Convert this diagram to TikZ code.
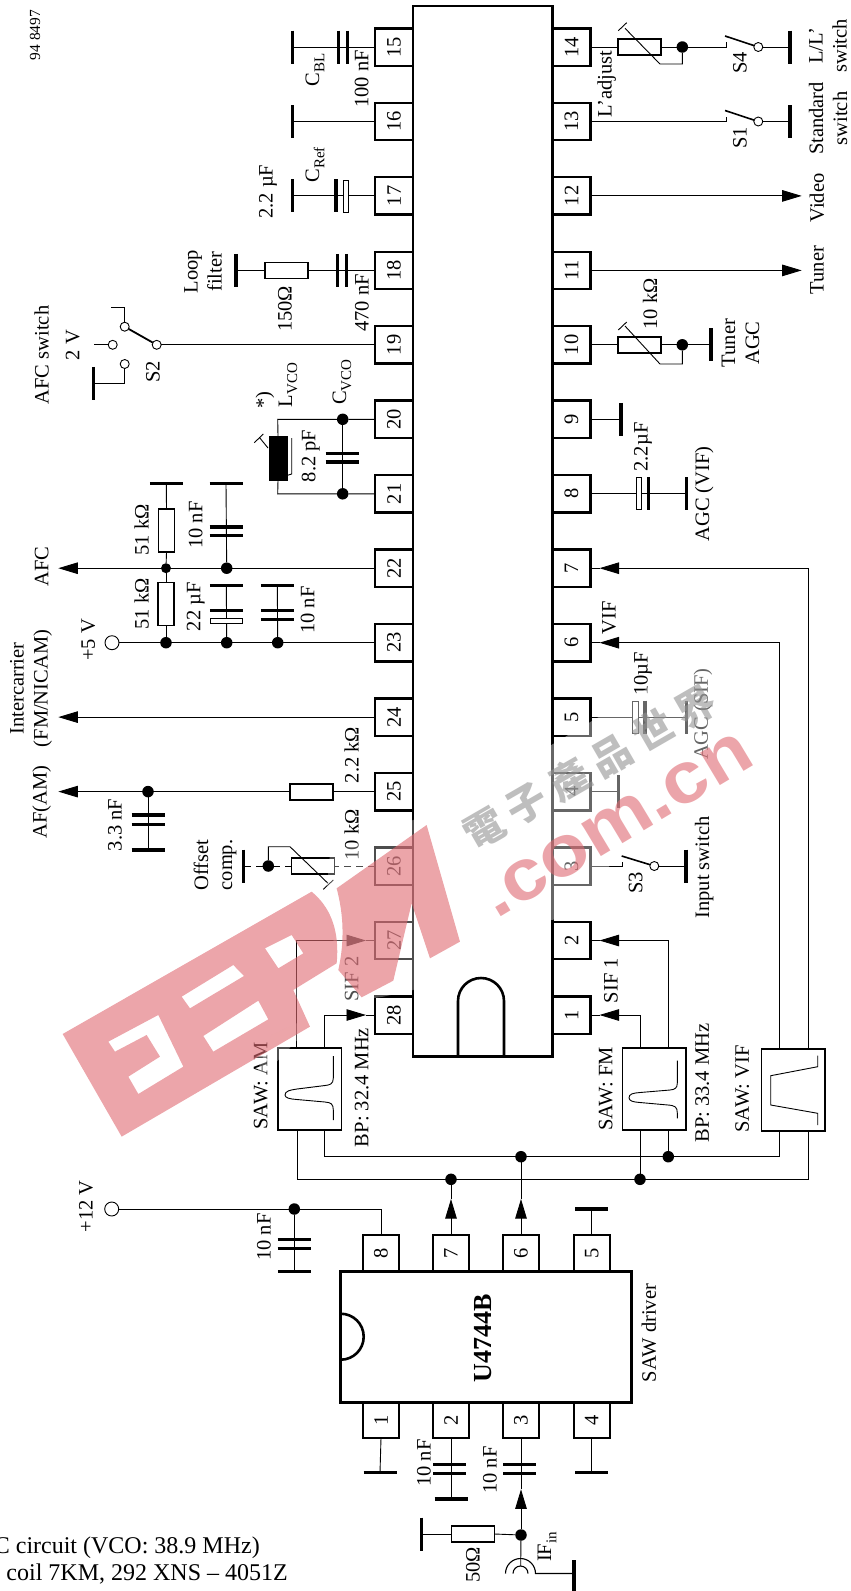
\documentclass[tikz,border=0pt]{standalone}
\usepackage{fontspec}
\setmainfont{Liberation Serif}
\newfontfamily\wmsans{Liberation Sans}
\newfontfamily\wmcjk[LetterSpace=22]{Noto Sans CJK TC}
\usetikzlibrary{arrows.meta,calc}
\definecolor{wmp}{RGB}{223,105,113}
\definecolor{wmg}{RGB}{147,147,147}
\newcommand{\lf}{\fontsize{20.5}{24}\selectfont}
\newcommand{\sbs}[1]{\raisebox{-.25em}{\fontsize{15}{15}\selectfont #1}}
\tikzset{
  >={Triangle[length=19.5pt,width=11.5pt]},
  wire/.style={line width=.9pt},
  bar/.style={line width=3.4pt},
  lab/.style={rotate=90,inner sep=0pt,font=\lf,align=center},
  pinbox/.style={draw,line width=2.4pt,minimum width=38pt,minimum height=37.4pt,inner sep=0pt,outer sep=0pt,font=\lf},
  upin/.style={draw,line width=2pt,minimum width=36pt,minimum height=36pt,inner sep=0pt,outer sep=0pt,font=\lf},
  chip/.style={draw,line width=2.6pt,inner sep=0pt,outer sep=0pt},
  res/.style={draw,fill=white,line width=1.8pt,inner sep=0pt,outer sep=0pt},
  hres/.style={res,minimum width=43pt,minimum height=16pt},
  vres/.style={res,minimum width=16pt,minimum height=43pt},
  sawbox/.style={draw,line width=1.6pt,inner sep=0pt,outer sep=0pt,minimum width=63.5pt,minimum height=82pt},
  dot/.style={circle,fill=black,inner sep=0pt,outer sep=0pt,minimum size=11.5pt},
  sdot/.style={dot,minimum size=10pt},
  term/.style={circle,draw,fill=white,line width=.9pt,inner sep=0pt,outer sep=0pt,minimum size=14pt},
  swc/.style={circle,draw,fill=white,line width=.9pt,inner sep=0pt,outer sep=0pt,minimum size=9pt},
  hollow/.style={draw,fill=white,line width=.8pt},
  wmark/.style={opacity=.6}
}
\newcommand{\VP}[2]{\draw[bar] (#1,#2-16.5) -- (#1,#2+16.5);}
\newcommand{\HP}[2]{\draw[bar] (#1-16.5,#2) -- (#1+16.5,#2);}
\newcommand{\VB}[3]{\coordinate (#1) at (#2,#3);\VP{#2}{#3}}
\newcommand{\HB}[3]{\coordinate (#1) at (#2,#3);\HP{#2}{#3}}
\begin{document}
\begin{tikzpicture}[x=1pt,y=-1pt]
\useasboundingbox (0,0) rectangle (851,1591);
% ---------- pins
\foreach \n/\yy in {15/47,16/121.5,17/195.9,18/270.4,19/344.8,20/419.3,21/493.8,22/568.2,23/642.7,24/717.1,25/791.6,26/866,27/940.5,28/1015}
  \node[pinbox] (p\n) at (394,\yy) {\rotatebox{90}{\n}};
\foreach \n/\yy in {14/47,13/121.5,12/195.9,11/270.4,10/344.8,9/419.3,8/493.8,7/568.2,6/642.7,5/717.1,4/791.6,3/866,2/940.5,1/1015}
  \node[pinbox] (p\n) at (571.5,\yy) {\rotatebox{90}{\n}};
\node[chip,minimum width=139.7pt,minimum height=1050.7pt] (ic) at (482.85,531.35) {};
\draw[line width=2.6pt] (458,1056.7) -- (458,1001) arc[start angle=180,end angle=0,radius=23pt] -- (504,1056.7);
% ---------- U4744B
\foreach \n/\xx in {8/381,7/451,6/521,5/591.7}
  \node[upin] (u\n) at (\xx,1253) {\rotatebox{90}{\n}};
\foreach \n/\xx in {1/381,2/451,3/521,4/591.7}
  \node[upin] (u\n) at (\xx,1420) {\rotatebox{90}{\n}};
\node[chip,minimum width=291pt,minimum height=131pt,fill=white] (drv) at (486.2,1336.8) {};
\draw[line width=2.6pt] (340.7,1313.7) arc[start angle=90,end angle=-90,radius=23pt];
\node[lab,font=\fontsize{26}{30}\selectfont\bfseries] (tU) at (483,1338) {U4744B};
\node[lab] (tDrv) at (649,1333) {SAW driver};
% ---------- SAW filters
\node[sawbox] (sAM) at (309.7,1089.2) {};
\node[sawbox] (sFM) at (654.4,1089.2) {};
\node[sawbox] (sVF) at (793.4,1090) {};
\draw[wire] (333.3,1056) -- (333.3,1078) .. controls (333.3,1084) and (330,1085) .. (325,1085.5) -- (297,1089) .. controls (290,1090) and (285,1091) .. (285,1095) .. controls (285,1098) and (290,1099) .. (297,1099.5) -- (325,1102) .. controls (331,1102.5) and (333.3,1104) .. (333.3,1110) -- (333.3,1120);
\draw[wire] (677.3,1060.7) -- (677.3,1083) .. controls (677.3,1088) and (675,1089.5) .. (670,1090) -- (640,1092.5) .. controls (633,1093) and (629,1094) .. (629,1097.7) .. controls (629,1101) and (633,1102) .. (640,1102.5) -- (668,1105) .. controls (675,1105.5) and (677.3,1107) .. (677.3,1113) -- (677.3,1118.3);
\draw[wire] (817.7,1055.7) -- (817.7,1066.7) -- (770.7,1075.7) -- (770.7,1105) -- (817.7,1113.3) -- (817.7,1125);
% ---------- SAW wiring
\coordinate (am1) at (296,1048.2);
\coordinate (am2) at (324.3,1048.2);
\coordinate (am3) at (324.3,1130.2);
\coordinate (am4) at (297.7,1130.2);
\coordinate (busA) at (324.3,1156.7);
\coordinate (busB) at (297.7,1179.3);
\coordinate (fm1) at (640,1048.2);
\coordinate (fm2) at (668.3,1048.2);
\coordinate (fm3) at (640,1130.2);
\coordinate (fm4) at (668.3,1130.2);
\coordinate (vf1) at (779,1049);
\coordinate (vf2) at (808.3,1049);
\coordinate (vf3) at (779,1131);
\coordinate (vf4) at (808.3,1131);
\coordinate (a27) at (366,940.5);
\coordinate (a28) at (366,1015);
\coordinate (a1) at (599.5,1015);
\coordinate (a2) at (599.5,940.5);
\coordinate (a6) at (599.5,642.7);
\coordinate (a7) at (599.5,568.2);
\node[dot] (d668) at (668.3,1156.7) {};
\node[dot] (d640) at (640,1179.3) {};
\node[dot] (d521) at (521,1156.7) {};
\node[dot] (d451) at (451,1179.3) {};
\draw[wire,->] (am1) |- (a27);
\draw[wire] (a27) -- (p27.west);
\draw[wire,->] (am2) |- (a28);
\draw[wire] (a28) -- (p28.west);
\draw[wire,->] (fm1) |- (a1);
\draw[wire] (a1) -- (p1.east);
\draw[wire,->] (fm2) |- (a2);
\draw[wire] (a2) -- (p2.east);
\draw[wire,->] (vf1) |- (a6);
\draw[wire] (a6) -- (p6.east);
\draw[wire,->] (vf2) |- (a7);
\draw[wire] (a7) -- (p7.east);
\draw[wire] (am3) -- (busA) -| (vf3);
\draw[wire] (am4) -- (busB) -| (vf4);
\draw[wire] (fm3) -- (d640);
\draw[wire] (fm4) -- (d668);
\coordinate (aU7) at (451,1199);
\coordinate (aU6) at (521,1199);
\draw[wire,->] (u7.north) -- (aU7);
\draw[wire,->] (u6.north) -- (aU6);
\draw[wire] (aU7) -- (d451);
\draw[wire] (aU6) -- (d521);
% ---------- U4744B periphery
\node[term] (t12) at (111.7,1209) {};
\node[dot] (d294) at (294.3,1209) {};
\coordinate (c8) at (381,1209);
\draw[wire] (t12) -- (d294) -- (c8) -- (u8.north);
\HB{g12}{294.3}{1271.7}
\draw[wire] (d294) -- (g12);
\HP{294}{1239.3}\HP{294}{1248.3}
\HB{gu5}{591.7}{1209}
\draw[wire] (u5.north) -- (gu5);
\HB{gu1}{380}{1472.7}
\draw[wire] (u1.south) -- (gu1);
\HB{gu4}{591.7}{1472.7}
\draw[wire] (u4.south) -- (gu4);
\HB{gu2}{451}{1499}
\draw[wire] (u2.south) -- (gu2);
\HP{449.5}{1464.3}\HP{449.5}{1473.3}
\node[dot] (d3) at (521,1535) {};
\coordinate (a3) at (521,1489.3);
\draw[wire,->] (d3) -- (a3);
\draw[wire] (a3) -- (u3.south);
\HP{519.5}{1464.3}\HP{519.5}{1473.3}
\node[hres] (r50) at (473,1534) {};
\VB{g50}{421.7}{1534}
\draw[wire] (d3) -- (r50.east);
\draw[wire] (r50.west) -- (g50);
\coordinate (cx) at (520.7,1566);
\draw[wire] (d3) -- (cx);
\draw[line width=1.1pt] (505.5,1573.5) arc[start angle=180,end angle=0,radius=15pt] -- (574,1573.5);
\draw[line width=1.1pt] (513,1573.5) arc[start angle=180,end angle=0,radius=7.5pt];
\draw[bar] (574,1560) -- (574,1591);
% ---------- top side, left pins
\VB{g15}{292.7}{47}
\draw[wire] (p15.west) -- (g15);
\VP{338.3}{47}\VP{347.3}{47}
\VB{g16}{292.7}{121.5}
\draw[wire] (p16.west) -- (g16);
\VB{g17}{292.7}{195.9}
\draw[wire] (p17.west) -- (g17);
\VP{336}{195.9}
\draw[hollow] (343.3,179.9) rectangle (348.3,211.9);
\node[hres] (r18) at (286.6,270.4) {};
\VB{g18}{236}{270.4}
\draw[wire] (p18.west) -- (r18.east);
\draw[wire] (r18.west) -- (g18);
\VP{337.7}{270.4}\VP{346.7}{270.4}
% S2
\node[swc] (s2c) at (156.7,344.8) {};
\node[swc] (s2a) at (124.7,326.7) {};
\node[swc] (s2b) at (112.7,344.8) {};
\node[swc] (s2g) at (124.7,364) {};
\coordinate (s2e) at (94,344.8);
\coordinate (s2u) at (124.7,307.7);
\coordinate (s2v) at (111,307.7);
\coordinate (s2l) at (124.7,383.3);
\draw[wire] (p19.west) -- (s2c);
\draw[line width=1.8pt] (s2c) -- (s2a);
\draw[wire] (s2a) -- (s2u) -- (s2v);
\draw[wire] (s2b) -- (s2e);
\VB{g19}{93.3}{383.3}
\draw[wire] (s2g) -- (s2l) -- (g19);
% LC
\node[dot] (d20) at (342.7,419.3) {};
\node[dot] (d21) at (342.7,493.8) {};
\node[draw,fill=black,inner sep=0pt,minimum width=17.4pt,minimum height=44pt] (lvco) at (278,458) {};
\coordinate (l20) at (277.7,419.3);
\coordinate (l21) at (277.7,493.8);
\draw[wire] (p20.west) -- (d20) -- (l20) -- (lvco.north);
\draw[wire] (p21.west) -- (d21) -- (l21) -- (lvco.south);
\draw[wire] (d20) -- (d21);
\HP{342}{453.3}\HP{342}{462}
\draw[wire] (291.7,438) -- (291.7,474) -- (286.7,475.5);
\draw[wire] (268,448) -- (259.3,437.3);
\draw[wire] (254.3,442.7) -- (263.3,434);
% 22/23
\node[sdot] (d166) at (166,568.2) {};
\node[dot] (d227) at (226.7,568.2) {};
\node[term] (t5) at (112,642.7) {};
\node[dot] (e166) at (166,642.7) {};
\node[dot] (e227) at (226.7,642.7) {};
\node[dot] (e278) at (277.7,642.7) {};
\coordinate (a22) at (58.3,568.2);
\draw[wire,->] (p22.west) -- (a22);
\draw[wire] (p23.west) -- (t5);
\node[vres] (r51a) at (166.5,530.8) {};
\node[vres] (r51b) at (166,604) {};
\HB{g22a}{166.3}{483.3}
\HB{g22b}{226}{483.3}
\draw[wire] (d166) -- (r51a.south);
\draw[wire] (r51a.north) -- (g22a);
\draw[wire] (d227) -- (g22b);
\HP{226}{527}\HP{226}{535.7}
\draw[wire] (d166) -- (r51b.north);
\draw[wire] (r51b.south) -- (e166);
\HB{g23a}{226.3}{585.3}
\draw[wire] (e227) -- (g23a);
\HP{226.3}{610.7}
\draw[hollow] (210,618.3) rectangle (242.5,623.3);
\HB{g23b}{277.3}{585.3}
\draw[wire] (e278) -- (g23b);
\HP{277.3}{610.7}\HP{277.3}{619.3}
% 24, 25, 26
\coordinate (a24) at (58.3,717.1);
\draw[wire,->] (p24.west) -- (a24);
\node[hres] (r25) at (311.7,791.6) {};
\node[dot] (d148) at (148,791.6) {};
\coordinate (a25) at (58.3,791.6);
\draw[wire] (p25.west) -- (r25.east);
\draw[wire,->] (r25.west) -- (a25);
\HB{g25}{148}{850}
\draw[wire] (d148) -- (g25);
\HP{148}{815}\HP{148}{824.3}
\node[hres] (r26) at (313,866) {};
\node[dot] (d26) at (268.3,866) {};
\VB{g26}{243.7}{866}
\draw[wire,dash pattern=on 7pt off 5pt] (p26.west) -- (r26.east);
\draw[wire,dash pattern=on 7pt off 5pt] (r26.west) -- (d26);
\draw[wire,dash pattern=on 7pt off 5pt] (d26) -- (g26);
\coordinate (k26) at (268.3,846.7);
\coordinate (s26) at (290,846.7);
\draw[wire] (d26) -- (k26) -- (s26) -- (328,883.3);
\draw[wire] (323.3,889.3) -- (333.3,880);
% ---------- right side
\node[hres] (r14) at (639.2,47) {};
\node[dot] (d14) at (682.3,47) {};
\node[swc] (s4) at (758.3,47) {};
\VB{g14}{790}{47}
\coordinate (k14) at (726.7,47);
\draw[wire] (p14.east) -- (r14.west);
\draw[wire] (r14.east) -- (d14) -- (k14) -- (726.7,42);
\draw[wire] (s4) -- (g14);
\draw[line width=1.6pt] (725,36) -- (s4);
\coordinate (k14b) at (682.3,64);
\draw[wire] (625,28.3) -- (660,64) -- (k14b) -- (d14);
\draw[wire] (618.3,30.7) -- (626.7,22.7);
\node[swc] (s1) at (758.3,121.5) {};
\VB{g13}{790}{121.5}
\coordinate (k13) at (726.7,121.5);
\draw[wire] (p13.east) -- (k13) -- (726.7,116.5);
\draw[wire] (s1) -- (g13);
\draw[line width=1.6pt] (725,110.5) -- (s1);
\coordinate (a12) at (801.7,195.9);
\coordinate (a11) at (801.7,270.4);
\draw[wire,->] (p12.east) -- (a12);
\draw[wire,->] (p11.east) -- (a11);
\node[hres] (r10) at (639.2,344.8) {};
\node[dot] (d10) at (682.3,344.8) {};
\VB{g10}{711}{344.8}
\draw[wire] (p10.east) -- (r10.west);
\draw[wire] (r10.east) -- (d10) -- (g10);
\coordinate (k10) at (682.3,364);
\draw[wire] (625,326) -- (660,364) -- (k10) -- (d10);
\draw[wire] (618.3,330) -- (626.7,322);
\VB{g9}{621}{419.3}
\draw[wire] (p9.east) -- (g9);
\VB{g8}{686.7}{493.8}
\draw[wire] (p8.east) -- (g8);
\draw[hollow] (636.7,477.8) rectangle (641.7,509.8);
\VP{648.3}{493.8}
\VB{g5}{686.7}{717.1}
\draw[wire] (p5.east) -- (g5);
\draw[hollow] (632,701.1) rectangle (638.3,733.1);
\VP{645}{717.1}
\VB{g4}{618.3}{791.6}
\draw[wire] (p4.east) -- (g4);
\node[swc] (s3) at (654.3,866) {};
\VB{g3}{686}{866}
\coordinate (k3) at (622.3,866);
\draw[wire] (p3.east) -- (k3) -- (622.3,862);
\draw[wire] (s3) -- (g3);
\draw[line width=1.6pt] (621.7,856) -- (s3);
% ---------- labels
\node[lab,font=\fontsize{15.4}{18}\selectfont] (t948) at (35,35) {94 8497};
\node[lab] (tCBL) at (315,70) {C\sbs{BL}};
\node[lab] (t100) at (361.7,79) {100 nF};
\node[lab] (tCRef) at (315,165) {C\sbs{Ref}};
\node[lab] (t22a) at (268,191.7) {2.2 µF};
\node[lab] (tLoop) at (203,271.7) {Loop\\filter};
\node[lab] (t150) at (285,309) {150Ω};
\node[lab] (t470) at (362,303) {470 nF};
\node[lab] (tS2) at (153,372) {S2};
\node[lab] (t2V) at (72.7,345) {2 V};
\node[lab] (tAFCs) at (41.7,355) {AFC switch};
\node[lab] (tstar) at (265,400) {*)};
\node[lab] (tLV) at (288,385) {L\sbs{VCO}};
\node[lab] (tCV) at (342,382) {C\sbs{VCO}};
\node[lab] (t82) at (310.7,456) {8.2 pF};
\node[lab] (t51a) at (141.7,530) {51 kΩ};
\node[lab] (t51b) at (141.7,604) {51 kΩ};
\node[lab] (t10a) at (195.7,525) {10 nF};
\node[lab] (t22b) at (195.7,606.7) {22 µF};
\node[lab] (t10b) at (307.7,610) {10 nF};
\node[lab] (t5V) at (88.3,640) {+5 V};
\node[lab] (tAFC) at (41.7,566.7) {AFC};
\node[lab] (tInter) at (31,688.5) {Intercarrier\\(FM/NICAM)};
\node[lab] (t33) at (115,825) {3.3 nF};
\node[lab] (t22k) at (351.7,755) {2.2 kΩ};
\node[lab] (tAF) at (41.7,802) {AF(AM)};
\node[lab] (t10k) at (351.7,835) {10 kΩ};
\node[lab] (tOff) at (215,865) {Offset\\comp.};
\node[lab] (tSIF2) at (351.7,979) {SIF 2};
\node[lab] (tSAWA) at (260.7,1086) {SAW: AM};
\node[lab] (tBPA) at (361.7,1087.5) {BP: 32.4 MHz};
\node[lab] (t12V) at (86,1206.5) {+12 V};
\node[lab] (t10c) at (264,1237) {10 nF};
\node[lab] (t10d) at (424,1463) {10 nF};
\node[lab] (t10e) at (490,1470) {10 nF};
\node[lab] (t50) at (473,1565) {50Ω};
\node[lab] (tIF) at (547,1547) {IF\sbs{in}};
\node[lab] (tS4) at (740,63) {S4};
\node[lab] (tLadj) at (606.7,84) {L’adjust};
\node[lab] (tLL) at (828,46) {L/L’\\switch};
\node[lab] (tS1) at (740,138) {S1};
\node[lab] (tStd) at (828,118.5) {Standard\\switch};
\node[lab] (tVid) at (817,198) {Video};
\node[lab] (tTun) at (817,270) {Tuner};
\node[lab] (t10f) at (650,304) {10 kΩ};
\node[lab] (tTAGC) at (740.5,343) {Tuner\\AGC};
\node[lab] (t22c) at (643,447) {2.2µF};
\node[lab] (tAGV) at (704.3,494) {AGC (VIF)};
\node[lab] (tVIF) at (609,617.5) {VIF};
\node[lab] (t10u) at (643,674) {10µF};
\node[lab] (tAGS) at (703,714) {AGC (SIF)};
\node[lab] (tS3) at (635.7,883) {S3};
\node[lab] (tInp) at (704.3,867.5) {Input switch};
\node[lab] (tSIF1) at (611,980.5) {SIF 1};
\node[lab] (tSAWF) at (605.7,1089) {SAW: FM};
\node[lab] (tBPF) at (702.3,1083) {BP: 33.4 MHz};
\node[lab] (tSAWV) at (742.3,1089) {SAW: VIF};
\node[inner sep=0pt,anchor=base east,font=\fontsize{24}{28}\selectfont] (tNote1) at (260,1553) {C circuit (VCO: 38.9 MHz)};
\node[inner sep=0pt,anchor=base east,font=\fontsize{24}{28}\selectfont] (tNote2) at (288,1580) {coil 7KM, 292 XNS – 4051Z};
% ---------- fading around the marks
\begin{scope}[shift={(430,660)},x=.3333pt,y=-.3333pt]
\fill[white,opacity=.4] (0,470) -- (830,-20) -- (900,100) -- (860,330) -- (560,560) -- (480,770) -- (360,780) -- (0,560) -- cycle;
\end{scope}
\begin{scope}[shift={(50,790)},x=.3333pt,y=-.3333pt]
\fill[white,opacity=.3] (600,900) -- (665,735) -- (870,640) -- (1000,620) -- (1090,600) -- (1290,450) -- (1140,70) -- (840,190) -- (830,300) -- (860,520) -- (730,600) -- (780,710) -- cycle;
\end{scope}
% ---------- watermark
\begin{scope}[shift={(50,790)},x=.3333pt,y=-.3333pt]
\fill[wmp,wmark,even odd rule]
  (38,732) -- (785,305) .. controls (840,350) and (870,420) .. (860,520) -- (730,600) -- (780,710) -- (215,1040) -- cycle
  (175,755) -- (325,675) -- (400,830) -- (265,912) -- (235,860) -- (330,800) -- (290,735) -- (195,785) -- cycle
  (395,620) -- (550,525) -- (582,558) -- (420,655) -- cycle
  (460,738) -- (625,632) -- (655,688) -- (490,785) -- cycle
  (645,475) -- (725,435) -- (760,490) -- (685,535) -- cycle;
\fill[wmp,wmark] (860,295) -- (1130,105) -- (1230,455) -- (1140,505) -- (1085,340) -- (1030,572) -- (935,622) -- (865,540) .. controls (885,450) and (880,370) .. (860,295) -- cycle;
\end{scope}
\node[text=wmp,wmark,inner sep=0pt,rotate=31,font=\wmsans\bfseries\fontsize{72}{80}\selectfont] (wmdom) at (617,825) {\scalebox{1.12}[1]{.com.cn}};
\node[text=wmg,wmark,inner sep=0pt,rotate=30,font=\wmcjk\bfseries\fontsize{40}{44}\selectfont] (wmcn) at (590,767) {電子產品世界};
\end{tikzpicture}
\end{document}
